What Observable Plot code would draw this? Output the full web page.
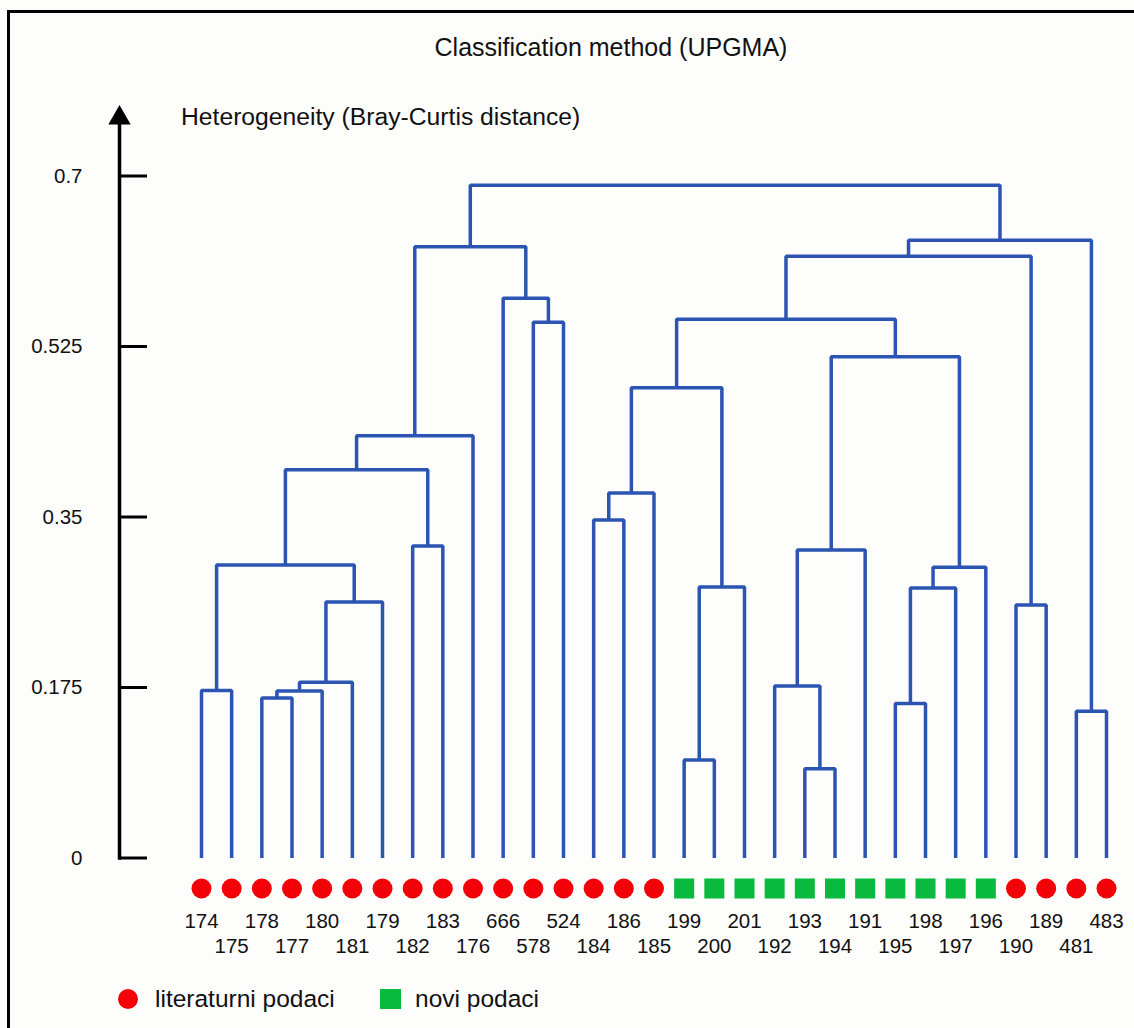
<!DOCTYPE html>
<html>
<head>
<meta charset="utf-8">
<script src="https://cdn.jsdelivr.net/npm/d3@7"></script>
<script src="https://cdn.jsdelivr.net/npm/@observablehq/plot@0.6"></script>
<style>
  html, body { margin: 0; padding: 0; background: #fdfdfb; overflow: hidden; }
  body { width: 1134px; height: 1028px; position: relative; font-family: "Liberation Sans", Arial, sans-serif; color: #111; }
  #frame { position: absolute; left: 7px; top: 10px; width: 1200px; height: 1100px; border: 3px solid #000; box-sizing: border-box; }
  #chart { position: absolute; left: 0; top: 0; }
  #chart svg { display: block; }
  .txt { position: absolute; white-space: nowrap; font-size: 24.5px; line-height: 28px; }
  #title { left: 0; width: 1222px; top: 33px; text-align: center; font-size: 25px; }
  #ylabel { left: 181px; top: 103px; font-size: 24.7px; }
  .sw { position: absolute; }
</style>
</head>
<body>
<div id="frame"></div>
<div id="chart"></div>
<div id="title" class="txt">Classification method (UPGMA)</div>
<div id="ylabel" class="txt">Heterogeneity (Bray-Curtis distance)</div>
<div id="legend"></div>
<script>
// ---- data ----
const leaves = ["174","175","178","177","180","181","179","182","183","176","666","578","524","184","186","185",
                "199","200","201","192","193","194","191","195","198","197","196","190","189","481","483"];
const leafGroup = ["lit","lit","lit","lit","lit","lit","lit","lit","lit","lit","lit","lit","lit","lit","lit","lit",
                   "novi","novi","novi","novi","novi","novi","novi","novi","novi","novi","novi","lit","lit","lit","lit"];
// UPGMA merges: node ids < 31 are leaves, ids >= 31 are earlier merges (31 + merge index)
const mergeA = [20, 16, 29, 23, 2, 35, 0, 19, 36, 27, 39, 34, 32, 42, 37, 38, 7, 13, 48, 45, 50, 49, 46, 11, 52, 10, 55, 51, 57, 58];
const mergeB = [21, 17, 30, 24, 3, 4, 1, 31, 5, 28, 6, 25, 18, 26, 41, 22, 8, 14, 15, 47, 9, 43, 44, 12, 53, 54, 40, 56, 33, 59];
const mergeHeight = [0.0915, 0.1007, 0.1506, 0.1585, 0.1643, 0.1715, 0.1718, 0.1766, 0.1803, 0.2597,
                     0.2628, 0.2771, 0.2782, 0.2983, 0.3007, 0.3161, 0.3202, 0.3469, 0.3746, 0.3985,
                     0.4333, 0.4826, 0.5144, 0.5499, 0.5530, 0.5746, 0.6176, 0.6275, 0.6340, 0.6905];
const yTicks = [0, 0.175, 0.35, 0.525, 0.7];
const yTickLabels = ["0", "0.175", "0.35", "0.525", "0.7"];
const legendLabels = {lit: "literaturni podaci", novi: "novi podaci"};
const groupColor = {lit: "#f40008", novi: "#0aba3e"};

// ---- dendrogram geometry (in data units) ----
const n = leaves.length;
const nodeX = leaves.map((_, i) => i);
const nodeH = leaves.map(() => 0);
const links = [];
mergeA.forEach((a, k) => {
  const b = mergeB[k], h = mergeHeight[k];
  links.push({k, x: nodeX[a], y: nodeH[a]}, {k, x: nodeX[a], y: h},
             {k, x: nodeX[b], y: h}, {k, x: nodeX[b], y: nodeH[b]});
  nodeX.push((nodeX[a] + nodeX[b]) / 2);
  nodeH.push(h);
});
const idx = leaves.map((_, i) => i);

const W = 1134, H = 975;
const chart = Plot.plot({
  width: W, height: H,
  marginLeft: 119, marginRight: 0, marginTop: 124, marginBottom: 117.5,
  x: {domain: [0, n - 1], range: [201, 1106], axis: null},
  y: {domain: [0, 0.7], range: [857.5, 175.5], axis: null},
  style: {background: "transparent", fontFamily: "'Liberation Sans', Arial, sans-serif", color: "#111"},
  marks: [
    Plot.frame({anchor: "left", stroke: "#000", strokeWidth: 3.5}),
    Plot.dot([0], {frameAnchor: "top-left", symbol: "triangle", r: 8.3, fill: "#000", stroke: "none", dy: -6.5}),
    Plot.ruleY(yTicks, {y: d => d, stroke: "#000", strokeWidth: 3, insetRight: W - 147}),
    Plot.text(yTicks, {y: d => d, text: (d, i) => yTickLabels[i], frameAnchor: "left", textAnchor: "end", dx: -37, fontSize: 20.5, fill: "#111"}),
    Plot.line(links, {x: "x", y: "y", z: "k", stroke: "#2c54b3", strokeWidth: 3.5, strokeLinejoin: "miter", strokeLinecap: "butt"}),
    Plot.dot(idx.filter(i => leafGroup[i] === "lit"), {x: i => i, y: () => 0, dy: 30.5, r: 10, fill: groupColor.lit, stroke: "none"}),
    Plot.dot(idx.filter(i => leafGroup[i] === "novi"), {x: i => i, y: () => 0, dy: 30.5, symbol: "square", r: 11.3, fill: groupColor.novi, stroke: "none"}),
    Plot.text(idx.filter(i => i % 2 === 0), {x: i => i, y: () => 0, text: i => leaves[i], dy: 63.5, fontSize: 20.5, fill: "#111"}),
    Plot.text(idx.filter(i => i % 2 === 1), {x: i => i, y: () => 0, text: i => leaves[i], dy: 88.5, fontSize: 20.5, fill: "#111"})
  ]
});
document.getElementById("chart").appendChild(chart);

// ---- legend ----
const legend = document.getElementById("legend");
const items = [
  {g: "lit", shape: "circle", sx: 118, sy: 989, tx: 155},
  {g: "novi", shape: "square", sx: 380, sy: 989, tx: 415}
];
items.forEach(it => {
  const sw = document.createElement("div");
  sw.className = "sw";
  sw.style.left = it.sx + "px"; sw.style.top = it.sy + "px";
  sw.style.width = (it.shape === "circle" ? 20 : 21) + "px";
  sw.style.height = 20 + "px";
  sw.style.background = groupColor[it.g];
  if (it.shape === "circle") sw.style.borderRadius = "50%";
  legend.appendChild(sw);
  const t = document.createElement("div");
  t.className = "txt";
  t.style.left = it.tx + "px"; t.style.top = (999 - 14) + "px";
  t.textContent = legendLabels[it.g];
  legend.appendChild(t);
});
</script>
</body>
</html>
